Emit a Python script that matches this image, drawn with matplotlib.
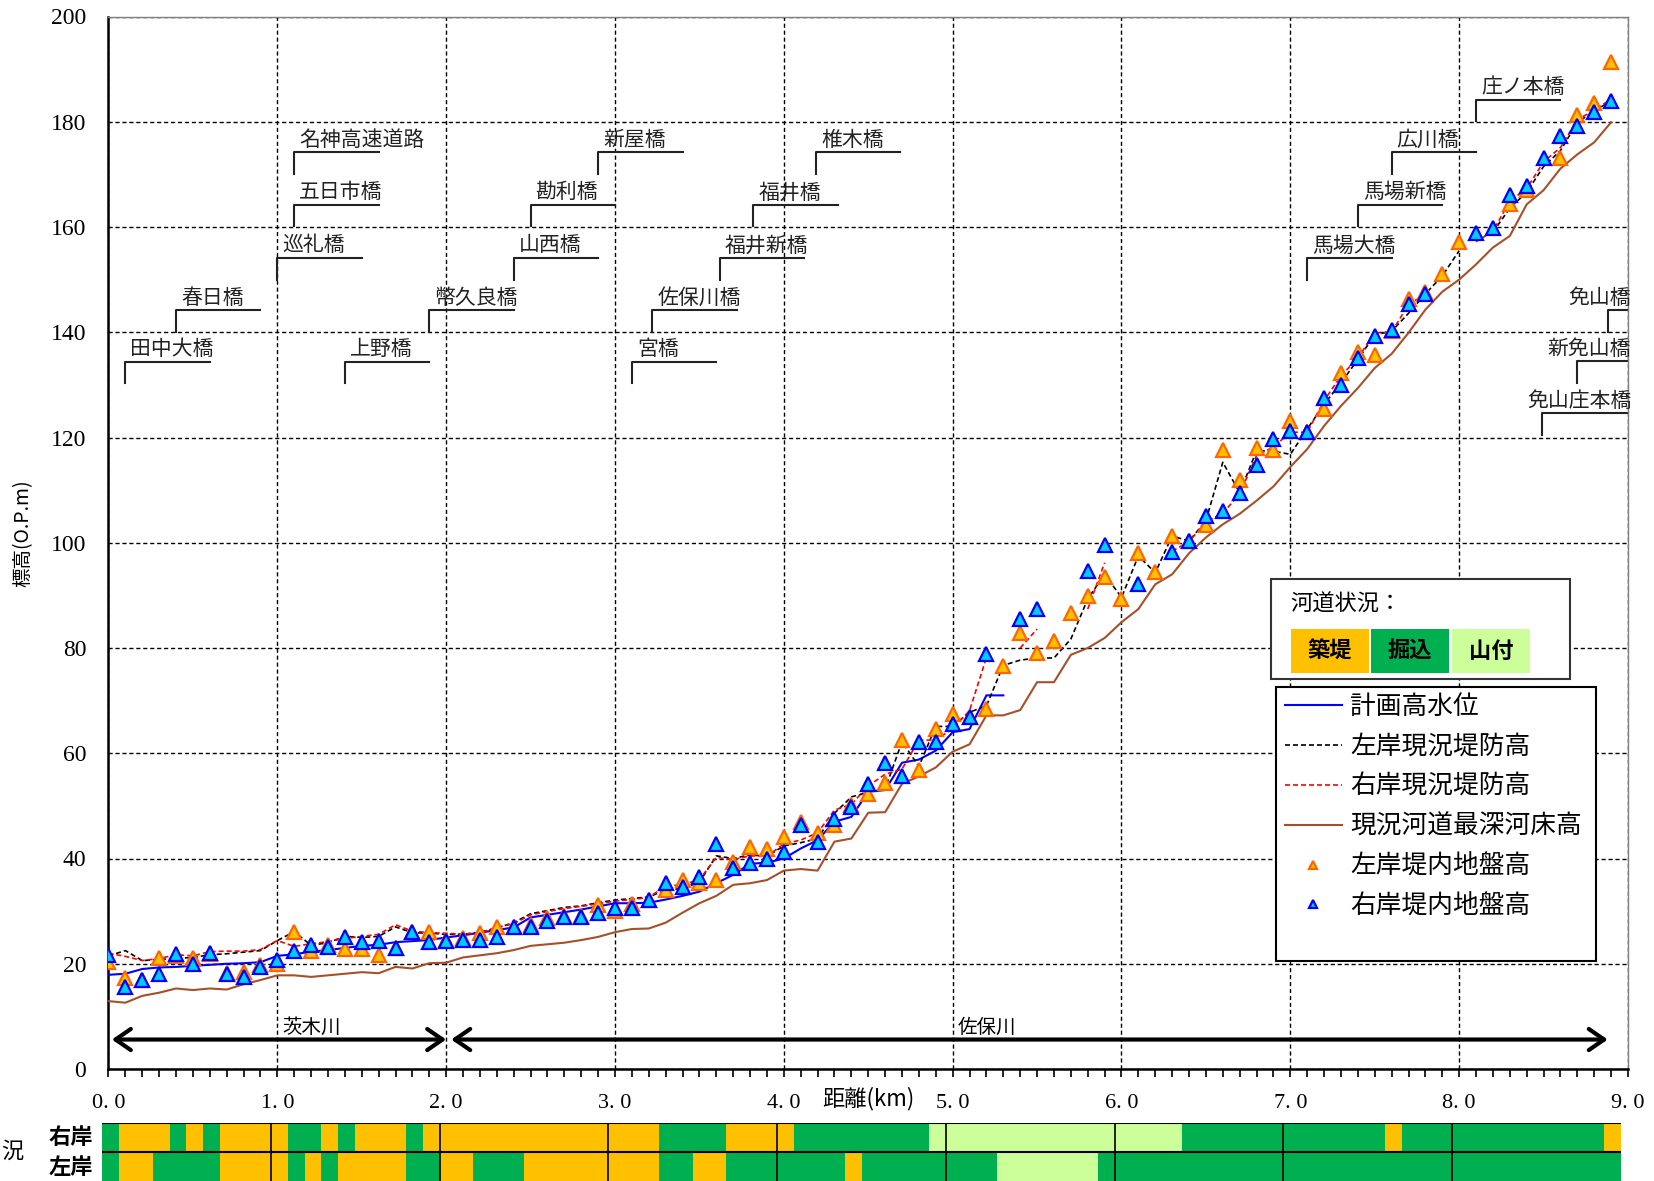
import numpy as np
import matplotlib
matplotlib.use("Agg")
import matplotlib.pyplot as plt
from matplotlib.patches import Rectangle

plt.rcParams['font.family'] = ['Noto Sans CJK JP', 'DejaVu Sans']

# distance (km) of each survey section
km = [0.0, 0.1, 0.2, 0.3, 0.4, 0.5, 0.6, 0.7, 0.8, 0.9,
      1.0, 1.1, 1.2, 1.3, 1.4, 1.5, 1.6, 1.7, 1.8, 1.9,
      2.0, 2.1, 2.2, 2.3, 2.4, 2.5, 2.6, 2.7, 2.8, 2.9,
      3.0, 3.1, 3.2, 3.3, 3.4, 3.5, 3.6, 3.7, 3.8, 3.9,
      4.0, 4.1, 4.2, 4.3, 4.4, 4.5, 4.6, 4.7, 4.8, 4.9,
      5.0, 5.1, 5.2, 5.3, 5.4, 5.5, 5.6, 5.7, 5.8, 5.9,
      6.0, 6.1, 6.2, 6.3, 6.4, 6.5, 6.6, 6.7, 6.8, 6.9,
      7.0, 7.1, 7.2, 7.3, 7.4, 7.5, 7.6, 7.7, 7.8, 7.9,
      8.0, 8.1, 8.2, 8.3, 8.4, 8.5, 8.6, 8.7, 8.8, 8.9]

nan = np.nan
plan_hwl = [17.9, 18.1, 19.0, 19.3, 19.4, 19.6, 19.8, 20.0, 20.1, 20.3,
            21.5, 21.8, 22.3, 22.6, 23.0, 23.4, 23.6, 24.1, 24.3, 24.5,
            25.0, 25.4, 25.9, 26.4, 26.9, 28.8, 29.3, 29.8, 30.3, 30.9,
            31.5, 31.5, 31.6, 32.2, 32.9, 33.7, 35.3, 36.9, 39.0, 39.2,
            40.0, 41.9, 43.5, 47.0, 47.9, 52.7, 53.0, 58.2, 58.8, 60.5,
            64.0, 64.6, 71.0, 71.0, nan, nan, nan, nan, nan, nan,
            nan, nan, nan, nan, nan, nan, nan, nan, nan, nan,
            nan, nan, nan, nan, nan, nan, nan, nan, nan, nan,
            nan, nan, nan, nan, nan, nan, nan, nan, nan, nan]

left_dike = [21.5, 22.5, 20.6, 20.8, 21.0, 21.2, 21.7, 21.9, 22.2, 22.5,
             24.4, 26.1, 23.5, 24.0, 25.2, 25.0, 25.2, 27.0, 25.9, 25.8,
             25.6, 25.6, 26.0, 26.8, 27.8, 29.5, 30.1, 30.7, 31.0, 31.6,
             32.1, 32.4, 32.7, 34.0, 34.3, 35.5, 40.5, 40.0, 40.7, 40.4,
             42.4, 43.0, 43.8, 48.6, 51.7, 52.6, 53.2, 62.2, 57.5, 65.1,
             65.1, 67.8, 69.0, 76.7, 77.7, 78.1, 78.1, 81.7, 89.3, 94.0,
             89.6, 97.5, 94.3, 101.3, 100.3, 104.2, 115.3, 109.5, 117.5, 117.4,
             116.8, 121.6, 126.3, 130.4, 134.8, 139.5, 140.2, 143.6, 147.3, 150.7,
             155.5, nan, 159.0, 163.6, 166.6, 171.5, 174.5, 179.9, 182.0, 184.0]

right_dike = [22.0, 21.4, 20.6, 21.0, 21.7, 21.5, 22.3, 22.4, 22.4, 22.7,
              24.4, 23.3, 23.8, 24.2, 24.8, 25.2, 25.6, 27.4, 26.2, 25.9,
              25.8, 25.6, 25.9, 26.9, 27.6, 29.3, 29.9, 30.5, 30.9, 31.4,
              31.9, 32.2, 32.6, 34.8, 35.0, 36.0, 40.2, 39.8, 40.5, 40.4,
              42.8, 43.5, 44.9, 49.2, 50.3, 53.8, 56.0, 57.0, 62.5, 62.5,
              64.7, 68.1, 78.2, nan, 80.0, 83.6, nan, nan, 87.4, 96.2,
              nan, nan, nan, 98.4, 100.2, 104.0, 105.6, 109.3, 116.6, 118.2,
              121.0, 121.0, 127.0, 131.7, 135.1, 139.9, 140.0, 145.3, 147.2, nan,
              nan, 157.2, 159.2, 164.9, 167.3, 172.4, 175.1, 180.4, 182.2, 184.3]

riverbed = [12.9, 12.6, 13.9, 14.5, 15.3, 15.0, 15.3, 15.1, 16.1, 16.9,
            17.8, 17.8, 17.5, 17.8, 18.1, 18.4, 18.2, 19.4, 19.1, 20.1,
            20.2, 21.2, 21.6, 22.0, 22.6, 23.4, 23.7, 24.0, 24.5, 25.1,
            26.0, 26.6, 26.7, 27.8, 29.7, 31.5, 32.9, 35.0, 35.3, 35.9,
            37.7, 38.0, 37.7, 43.2, 43.8, 48.7, 48.8, 54.2, 55.6, 57.3,
            60.3, 61.7, 67.2, 67.2, 68.2, 73.5, 73.5, 78.7, 80.0, 81.9,
            84.9, 87.4, 92.1, 94.0, 98.0, 101.0, 103.5, 105.5, 108.0, 110.7,
            114.4, 117.8, 122.2, 126.0, 129.4, 133.2, 135.9, 139.9, 144.3, 147.7,
            150.0, 152.9, 156.1, 158.3, 164.3, 167.0, 171.1, 173.8, 176.1, 179.9]

left_ground = [20.3, 17.3, 17.0, 21.0, 21.4, 21.0, 21.8, 18.2, 18.5, 19.7,
               19.9, 26.1, 22.5, 23.6, 22.8, 22.8, 21.7, 23.0, 26.1, 26.0,
               24.6, 24.8, 25.8, 27.0, 27.0, 27.3, 28.6, 29.0, 29.0, 31.2,
               30.0, 31.4, 32.1, 34.1, 35.9, 35.4, 35.9, 39.4, 42.1, 41.9,
               44.1, 47.0, 44.9, 46.4, 50.2, 52.3, 54.4, 62.5, 56.8, 64.7,
               67.5, 66.9, 68.5, 76.5, 82.8, 79.0, 81.3, 86.6, 89.9, 93.4,
               89.3, 98.1, 94.5, 101.3, 100.3, 103.4, 117.6, 112.0, 118.0, 117.6,
               123.1, 121.0, 125.5, 132.3, 136.3, 135.7, 140.2, 146.3, 147.7, 151.0,
               157.2, nan, nan, 164.3, 167.1, nan, 173.2, 181.2, 183.6, 191.4]

right_ground = [21.7, 15.5, 17.0, 18.0, 21.8, 20.0, 22.0, 18.0, 17.5, 19.4,
                20.7, 22.4, 23.5, 23.2, 25.0, 24.1, 24.4, 23.0, 26.1, 24.1,
                24.4, 24.6, 24.6, 25.1, 27.0, 26.9, 28.1, 28.8, 28.8, 29.7,
                30.5, 30.6, 32.1, 35.4, 34.6, 36.5, 42.8, 38.1, 39.1, 40.0,
                41.2, 46.4, 43.1, 47.6, 49.7, 54.1, 58.1, 55.7, 62.1, 62.1,
                65.5, 66.9, 78.9, nan, 85.6, 87.4, nan, nan, 94.6, 99.6,
                nan, 92.1, nan, 98.3, 100.4, 105.0, 106.0, 109.4, 114.8, 119.7,
                121.2, 121.0, 127.5, 130.0, 135.1, 139.3, 140.5, 145.4, 147.3, nan,
                nan, 158.8, 159.9, 166.0, 167.8, 173.2, 177.3, 179.2, 181.9, 183.9]

series_labels = ['計画高水位', '左岸現況堤防高', '右岸現況堤防高', '現況河道最深河床高',
                 '左岸堤内地盤高', '右岸堤内地盤高']

# bridges: name, km of bracket, bottom of bracket
bridge_names = ['田中大橋', '春日橋', '巡礼橋', '五日市橋', '名神高速道路', '上野橋',
                '幣久良橋', '山西橋', '勘利橋', '新屋橋', '宮橋', '佐保川橋',
                '福井新橋', '福井橋', '椎木橋', '馬場大橋', '馬場新橋', '広川橋',
                '庄ノ本橋', '免山庄本橋', '新免山橋', '免山橋']
bridge_km = [0.10, 0.40, 1.00, 1.10, 1.10, 1.40, 1.90, 2.40, 2.50, 2.90, 3.10, 3.22,
             3.62, 3.82, 4.19, 7.10, 7.40, 7.60, 8.10, 8.49, 8.70, 8.88]
bridge_base = [130.3, 140.1, 150.0, 160.1, 170.1, 130.3, 140.1, 150.0, 160.1, 170.1,
               130.3, 140.1, 150.0, 160.1, 170.1, 150.0, 160.1, 170.1, 180.1,
               120.5, 130.4, 140.1]
bridge_right = [False] * 19 + [True, True, True]

# river sections (arrows)
reach_names = ['茨木川', '佐保川']
reach_start = [0.02, 2.03]
reach_end = [2.00, 8.88]
reach_label_x = [1.03, 5.03]

# channel condition strip
cond_types = ['築堤', '掘込', '山付']
cond_colors = ['#FFC000', '#00B050', '#CCFF99']
right_bounds = [0.0, 0.1, 0.4, 0.5, 0.6, 0.7, 1.1, 1.3, 1.4, 1.5, 1.8, 1.9, 3.3, 3.7,
                4.1, 4.9, 6.4, 7.6, 7.7, 8.9, 9.0]
right_types = ['掘込', '築堤', '掘込', '築堤', '掘込', '築堤', '掘込', '築堤', '掘込', '築堤',
               '掘込', '築堤', '掘込', '築堤', '掘込', '山付', '掘込', '築堤', '掘込', '築堤']
left_bounds = [0.0, 0.1, 0.3, 0.7, 1.1, 1.2, 1.3, 1.4, 1.8, 2.0, 2.2, 2.5, 3.3, 3.5,
               3.7, 4.4, 4.5, 5.3, 5.9, 9.0]
left_types = ['掘込', '築堤', '掘込', '築堤', '掘込', '築堤', '掘込', '築堤', '掘込', '築堤',
              '掘込', '築堤', '掘込', '築堤', '掘込', '築堤', '掘込', '山付', '掘込']

x_ticks = [0, 1, 2, 3, 4, 5, 6, 7, 8, 9]
x_tick_labels = ['0. 0', '1. 0', '2. 0', '3. 0', '4. 0', '5. 0', '6. 0', '7. 0', '8. 0', '9. 0']
y_ticks = [0, 20, 40, 60, 80, 100, 120, 140, 160, 180, 200]

W, H = 1654, 1181


def fx(px):
    return px / W


def fy(py):
    return 1 - py / H


fig = plt.figure(figsize=(W / 100, H / 100), dpi=100)
ax = fig.add_axes([fx(108.5), fy(1069), fx(1628) - fx(108.5), fy(16.5) - fy(1069)])

ax.set_xlim(0, 9)
ax.set_ylim(0, 200)
ax.set_xticks(x_ticks)
ax.set_xticklabels(x_tick_labels, fontfamily='Liberation Serif', fontsize=16)
ax.set_xticks(np.arange(0, 9.01, 0.1), minor=True)
ax.set_yticks(y_ticks)
ax.set_yticklabels([str(v) for v in y_ticks], fontfamily='Liberation Serif', fontsize=17)
ax.tick_params(axis='x', which='both', direction='out', length=6, width=1.2, pad=12)
ax.tick_params(axis='y', length=0, pad=16)
ax.grid(True, color='black', linestyle=(0, (3, 2)), linewidth=1.0)
ax.set_axisbelow(True)
for s in ['left', 'bottom']:
    ax.spines[s].set_linewidth(1.8)
for s in ['top', 'right']:
    ax.spines[s].set_color('#808080')
    ax.spines[s].set_linewidth(1.0)

h1, = ax.plot(km, plan_hwl, color='#0000FF', lw=1.5, zorder=3)
h2, = ax.plot(km, left_dike, color='black', lw=1.2, linestyle=(0, (3, 1.8)), zorder=3)
h3, = ax.plot(km, right_dike, color='#FF0000', lw=1.2, linestyle=(0, (3, 1.8)), zorder=3)
h4, = ax.plot(km, riverbed, color='#A5502A', lw=1.5, zorder=3)
h5, = ax.plot(km, left_ground, linestyle='none', marker='^', ms=9.5, mfc='#FFC000',
              mec='#FF6600', mew=1.6, zorder=4)
h6, = ax.plot(km, right_ground, linestyle='none', marker='^', ms=9.5, mfc='#00CCFF',
              mec='#0000FF', mew=1.6, zorder=5)

# bridge brackets
for name, bx, by, right in zip(bridge_names, bridge_km, bridge_base, bridge_right):
    top = by + 4.1
    if right:
        ax.plot([bx, bx, 9.0], [by, top, top], color='#222222', lw=1.5, clip_on=False)
        ax.text(9.02, top + 0.3, name, ha='right', va='bottom', fontsize=15, color='#222222')
    else:
        ax.plot([bx, bx, bx + 0.5], [by, top, top], color='#222222', lw=1.5)
        ax.text(bx + 0.03, top + 0.3, name, ha='left', va='bottom', fontsize=15, color='#222222')

# reach arrows
for name, x0, x1, lx in zip(reach_names, reach_start, reach_end, reach_label_x):
    ax.annotate('', xy=(x0, 5.6), xytext=(x1, 5.6),
                arrowprops=dict(arrowstyle='<->, head_length=0.55, head_width=0.38',
                                mutation_scale=20, lw=3, color='black',
                                shrinkA=0, shrinkB=0))
    ax.text(lx, 7.9, name, ha='left', va='center', fontsize=14)

fig.text(fx(23), fy(533), '標高(O.P.m)', rotation=90, ha='center', va='center', fontsize=14)
fig.text(fx(868), fy(1099), '距離(km)', ha='center', va='center', fontsize=16)

# legend for the lines and markers
fig.add_artist(Rectangle((fx(1275.7), fy(960.7)), fx(1595.7) - fx(1275.7),
                         fy(686.7) - fy(960.7), transform=fig.transFigure,
                         facecolor='white', edgecolor='black', lw=1.5, zorder=10))
leg = fig.legend([h1, h2, h3, h4, h5, h6], series_labels, loc='upper left',
                 bbox_to_anchor=(fx(1285), fy(694)), bbox_transform=fig.transFigure,
                 frameon=False, fontsize=18.5, handlelength=2.2, handletextpad=0.33,
                 labelspacing=0.54, borderpad=0, borderaxespad=0, markerscale=0.6)
leg.set_zorder(11)

# channel condition legend box
fig.add_artist(Rectangle((fx(1270.7), fy(679)), fx(1570) - fx(1270.7), fy(579) - fy(679),
                         transform=fig.transFigure, facecolor='white', edgecolor='#333333',
                         lw=1.5, zorder=10))
fig.text(fx(1290), fy(604), '河道状況：', ha='left', va='center', fontsize=16, zorder=11)
box_x = [1290.7, 1370.7, 1451.7]
for t, c, bx in zip(cond_types, cond_colors, box_x):
    fig.add_artist(Rectangle((fx(bx), fy(672.7)), fx(bx + 78.6) - fx(bx), fy(629) - fy(672.7),
                             transform=fig.transFigure, facecolor=c, edgecolor='none', zorder=11))
    fig.text(fx(bx + 39.3), fy(651), t, ha='center', va='center', fontsize=16,
             fontweight='bold', zorder=12)

# channel condition strip
sx = fig.add_axes([fx(102), 0.0, fx(1621) - fx(102), fy(1123)])
sx.set_xlim(0, 9)
sx.set_ylim(0, 2)
color_of = dict(zip(cond_types, cond_colors))
for row, bounds, types in [(1, right_bounds, right_types), (0, left_bounds, left_types)]:
    lefts = bounds[:-1]
    widths = np.diff(bounds)
    sx.barh([row + 0.5] * len(types), widths, left=lefts, height=1.0,
            color=[color_of[t] for t in types], edgecolor='none')
sx.hlines([1, 2], 0, 9, color='black', lw=1.5)
sx.vlines(x_ticks[1:-1], 0, 2, color='black', lw=1.2)
sx.axis('off')

fig.text(fx(12), fy(1151), '況', ha='center', va='center', fontsize=16)
fig.text(fx(71), fy(1138), '右岸', ha='center', va='center', fontsize=16, fontweight='bold')
fig.text(fx(71), fy(1168), '左岸', ha='center', va='center', fontsize=16, fontweight='bold')

fig.savefig('out.png', dpi=100)
